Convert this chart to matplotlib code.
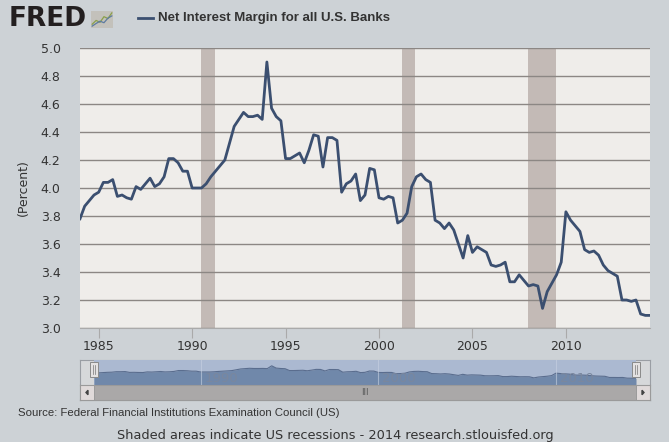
import matplotlib.pyplot as plt
import numpy as np
from matplotlib.patches import Rectangle, Polygon

# quarterly net interest margin, 1984Q1 - 2014Q3 (percent)
nim = [3.78, 3.87, 3.91, 3.95, 3.97, 4.04, 4.04, 4.06,
       3.94, 3.95, 3.93, 3.92, 4.01, 3.99, 4.03, 4.07,
       4.01, 4.03, 4.08, 4.21, 4.21, 4.18, 4.12, 4.12,
       4.00, 4.00, 4.00, 4.03, 4.08, 4.12, 4.16, 4.20,
       4.32, 4.44, 4.49, 4.54, 4.51, 4.51, 4.52, 4.49,
       4.90, 4.57, 4.51, 4.48, 4.21, 4.21, 4.23, 4.25,
       4.18, 4.27, 4.38, 4.37, 4.15, 4.36, 4.36, 4.34,
       3.97, 4.03, 4.05, 4.10, 3.91, 3.95, 4.14, 4.13,
       3.93, 3.92, 3.94, 3.93, 3.75, 3.77, 3.82, 4.01,
       4.08, 4.10, 4.06, 4.04, 3.77, 3.75, 3.71, 3.75,
       3.70, 3.60, 3.50, 3.66, 3.54, 3.58, 3.56, 3.54,
       3.45, 3.44, 3.45, 3.47, 3.33, 3.33, 3.38, 3.34,
       3.30, 3.31, 3.30, 3.14, 3.26, 3.32, 3.38, 3.47,
       3.83, 3.77, 3.73, 3.69, 3.56, 3.54, 3.55, 3.52,
       3.45, 3.41, 3.39, 3.37, 3.20, 3.20, 3.19, 3.20,
       3.10, 3.09, 3.09]
years = 1984 + np.arange(len(nim)) * 0.25

# recessions (start, end)
recessions = [(1990.5, 1991.25), (2001.25, 2001.9), (2007.95, 2009.45)]

line_color = '#3b4f70'
bg_color = '#cdd2d6'
plot_bg = '#efedea'
shade = '#c3bab6'
narrow = ['DejaVu Sans Condensed', 'Liberation Sans Narrow', 'Liberation Sans']

fig = plt.figure(figsize=(6.69, 4.42), dpi=100, facecolor=bg_color)
W, H = 669, 442

def box(x0, y0, x1, y1):
    return [x0 / W, 1 - y1 / H, (x1 - x0) / W, (y1 - y0) / H]

# main chart
ax = fig.add_axes(box(80, 48, 650, 328))
ax.set_facecolor(plot_bg)
for a, b in recessions:
    ax.axvspan(a, b, color=shade, lw=0, zorder=1)
ax.plot(years, nim, color=line_color, lw=2, zorder=3)
ax.set_xlim(1984, 2014.5)
ax.set_ylim(3.0, 5.0)
ax.set_yticks(np.arange(3.0, 5.01, 0.2))
ax.set_yticklabels([f'{v:.1f}' for v in np.arange(3.0, 5.01, 0.2)])
ax.set_xticks([1985, 1990, 1995, 2000, 2005, 2010])
ax.grid(axis='y', color='#8c8784', lw=1, zorder=2)
ax.tick_params(axis='y', length=0, pad=14, labelsize=9, labelcolor='#333333')
ax.tick_params(axis='x', length=7, color='#aaaaaa', pad=2, labelsize=9, labelcolor='#333333')
for s in ['left', 'right', 'top']:
    ax.spines[s].set_visible(False)
ax.spines['bottom'].set_color('#aaaaaa')
ax.set_ylabel('(Percent)', fontsize=9, color='#333333', labelpad=8)

# navigator frame
frame = fig.add_axes(box(80, 360, 650, 400))
frame.set_facecolor('#d6d8da')
frame.set_xticks([])
frame.set_yticks([])
for s in frame.spines.values():
    s.set_color('#9a9ea4')

# navigator series
nav = fig.add_axes(box(94, 360, 636, 385))
nav.set_facecolor('#abb9d1')
nav.fill_between(years, nim, 0, color='#7088aa', lw=0)
nav.plot(years, nim, color='#5a6d8e', lw=0.8)
nav.set_xlim(1984, 2014.5)
nav.set_ylim(2.1, 5.75)
nav.set_xticks([])
nav.set_yticks([])
for yr in [1990, 2000, 2010]:
    nav.axvline(yr, color='#c8d2e2', lw=0.8, alpha=0.6)
    nav.text(yr + 0.2, 3.1, str(yr), fontsize=9.5, color='#7a879e', va='center')
for s in nav.spines.values():
    s.set_visible(False)
for xh in [1984, 2014.5]:
    nav.add_patch(Rectangle((xh - 0.22, 3.2), 0.44, 2.3, facecolor='#e4e2e2',
                            edgecolor='#8a8a8a', lw=0.7, clip_on=False, zorder=5))
    nav.plot([xh - 0.05, xh - 0.05], [3.7, 5.0], color='#777777', lw=0.5, clip_on=False, zorder=6)
    nav.plot([xh + 0.07, xh + 0.07], [3.7, 5.0], color='#777777', lw=0.5, clip_on=False, zorder=6)

# scrollbar
sb = fig.add_axes(box(80, 385, 650, 400))
sb.set_xlim(80, 650)
sb.set_ylim(0, 1)
sb.set_facecolor('#aaa8a8')
sb.set_xticks([])
sb.set_yticks([])
for s in sb.spines.values():
    s.set_color('#9a9a9a')
sb.add_patch(Rectangle((80, 0), 14, 1, facecolor='#e0dada', edgecolor='#9a9a9a', lw=0.7))
sb.add_patch(Rectangle((636, 0), 14, 1, facecolor='#e0dada', edgecolor='#9a9a9a', lw=0.7))
sb.add_patch(Polygon([[88, 0.35], [88, 0.65], [86, 0.5]], color='#444444'))
sb.add_patch(Polygon([[642, 0.35], [642, 0.65], [644, 0.5]], color='#444444'))
sb.text(365, 0.5, 'III', fontsize=6, color='#555555', ha='center', va='center')

# header: logo, icon and series legend
fig.text(9 / W, 1 - 19 / H, 'FRED', fontsize=19, fontweight='bold', color='#231f20',
         va='center', family='DejaVu Sans')
icon = fig.add_axes(box(91, 11, 113, 28))
icon.set_facecolor('#c3c1bb')
icon.set_xticks([])
icon.set_yticks([])
for s in icon.spines.values():
    s.set_visible(False)
icon.plot([0, 1, 2, 3, 4, 5], [1, 2, 1.5, 3, 2.5, 4], color='#8aa04a', lw=0.9)
icon.plot([0, 1, 2, 3, 4, 5], [0.5, 1.2, 1.8, 1.4, 2.6, 3.2], color='#5d7ba0', lw=0.9)
icon.set_xlim(-0.3, 5.3)
icon.set_ylim(0, 4.5)
fig.add_artist(plt.Line2D([138 / W, 153 / W], [1 - 18 / H, 1 - 18 / H], color=line_color, lw=2))
fig.text(158 / W, 1 - 18 / H, 'Net Interest Margin for all U.S. Banks', fontsize=9.5,
         fontweight='bold', color='#333333', va='center', family=narrow)

# footer
fig.text(18 / W, 1 - 413 / H, 'Source: Federal Financial Institutions Examination Council (US)',
         fontsize=8.2, color='#333333', va='center', family=narrow)
fig.text(335 / W, 1 - 436 / H, 'Shaded areas indicate US recessions - 2014 research.stlouisfed.org',
         fontsize=9.3, color='#333333', va='center', ha='center', family='DejaVu Sans')

fig.savefig('out.png', dpi=100, facecolor=bg_color)
